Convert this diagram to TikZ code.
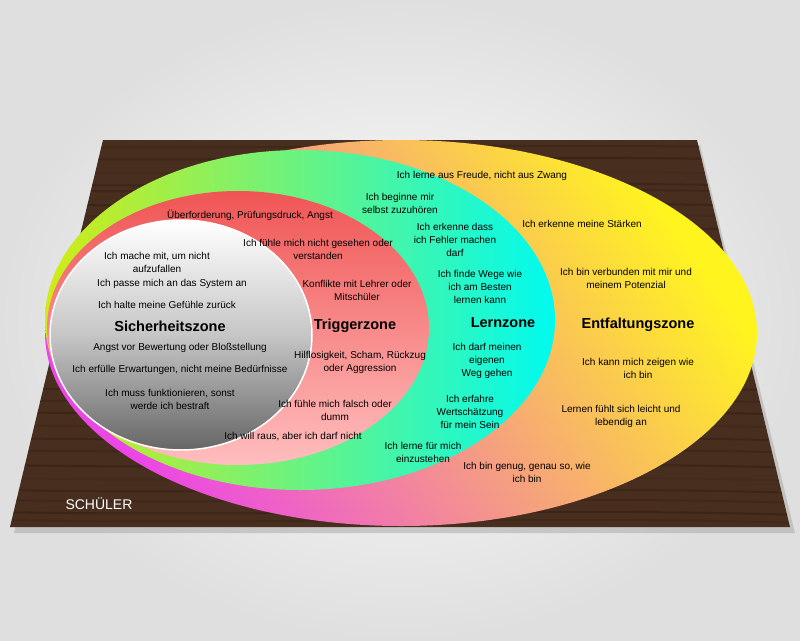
\documentclass[tikz,border=0pt]{standalone}
\usepackage{fontspec}
\setmainfont{Liberation Sans}
\begin{document}
\begin{tikzpicture}[x=1pt,y=-1pt,
  t/.style={align=center,font=\fontsize{10}{13}\selectfont,text=black,inner sep=0pt},
  h/.style={align=center,font=\fontsize{14.5}{16}\selectfont\bfseries,text=black,inner sep=0pt}]
\useasboundingbox (0,0) rectangle (800,640);
\shade[inner color=white,outer color=gray!25] (0,0) rectangle (800,640);
% board shadow and board
\fill[black!35,opacity=.5] (106,145) -- (700,145) -- (795,533) -- (14,533) -- cycle;
\coordinate (b1) at (103,140); \coordinate (b2) at (697,140);
\coordinate (b3) at (790,527); \coordinate (b4) at (10,527);
\fill[fill={rgb,255:red,72;green,46;blue,30}] (b1) -- (b2) -- (b3) -- (b4) -- cycle;
\begin{scope}
\clip (b1) -- (b2) -- (b3) -- (b4) -- cycle;
\foreach \yy/\c in {146/28,158/40,172/12,184/35,190/30,204/40,215/18,228/35,240/25,255/40,268/10,280/35,290/30,305/40,318/20,332/35,345/28,360/40,372/12,388/35,400/26,412/40,425/18,438/35,450/30,465/40,478/14,490/35,500/25,512/40,520/20}{
  \draw[line width=2pt,color={rgb,255:red,40;green,24;blue,14},opacity=.\c]
    (0,\yy) .. controls (250,\yy+5) and (550,\yy-5) .. (800,\yy+3);}
\end{scope}
% ellipses
\shade[left color={rgb,255:red,235;green,70;blue,230},middle color={rgb,255:red,255;green,150;blue,60},right color={rgb,255:red,255;green,245;blue,30},shading angle=125]
  (401,333) ellipse [x radius=356,y radius=193];
\shade[left color={rgb,255:red,210;green,235;blue,20},middle color={rgb,255:red,60;green,230;blue,90},right color={rgb,255:red,0;green,250;blue,240}]
  (300,320) ellipse [x radius=255,y radius=170];
\shade[top color={rgb,255:red,240;green,85;blue,85},bottom color={rgb,255:red,255;green,190;blue,190}]
  (238,328) ellipse [x radius=191,y radius=137];
\shade[top color=white,bottom color=gray!80!black,middle color=gray!45]
  (181,335) ellipse [x radius=131,y radius=115];
\draw[white,line width=1.5pt] (181,335) ellipse [x radius=131,y radius=115];
% Sicherheitszone
\node[t] (s1) at (157,262) {Ich mache mit, um nicht\\aufzufallen};
\node[t] (s2) at (172,284) {Ich passe mich an das System an};
\node[t] (s3) at (167,305) {Ich halte meine Gefühle zurück};
\node[h] (s0) at (170,326) {Sicherheitszone};
\node[t] (s4) at (180,348) {Angst vor Bewertung oder Bloßstellung};
\node[t] (s5) at (180,370) {Ich erfülle Erwartungen, nicht meine Bedürfnisse};
\node[t] (s6) at (170,399) {Ich muss funktionieren, sonst\\werde ich bestraft};
% Triggerzone
\node[t] (r1) at (250,215) {Überforderung, Prüfungsdruck, Angst};
\node[t] (r2) at (318,249) {Ich fühle mich nicht gesehen oder\\verstanden};
\node[t] (r3) at (357,290) {Konflikte mit Lehrer oder\\Mitschüler};
\node[h] (r0) at (355,326) {Triggerzone};
\node[t] (r4) at (360,362) {Hilflosigkeit, Scham, Rückzug\\oder Aggression};
\node[t] (r5) at (335,410) {Ich fühle mich falsch oder\\dumm};
\node[t] (r6) at (293,437) {Ich will raus, aber ich darf nicht};
% Lernzone
\node[t] (l1) at (400,203) {Ich beginne mir\\selbst zuzuhören};
\node[t] (l2) at (455,240) {Ich erkenne dass\\ich Fehler machen\\darf};
\node[t] (l3) at (480,287) {Ich finde Wege wie\\ich am Besten\\lernen kann};
\node[h] (l0) at (503,323) {Lernzone};
\node[t] (l4) at (487,361) {Ich darf meinen\\eigenen\\Weg gehen};
\node[t] (l5) at (470,412) {Ich erfahre\\Wertschätzung\\für mein Sein};
\node[t] (l6) at (423,452) {Ich lerne für mich\\einzustehen};
% Entfaltungszone
\node[t] (e1) at (482,176) {Ich lerne aus Freude, nicht aus Zwang};
\node[t] (e2) at (582,224) {Ich erkenne meine Stärken};
\node[t] (e3) at (626,278) {Ich bin verbunden mit mir und\\meinem Potenzial};
\node[h] (e0) at (638,325) {Entfaltungszone};
\node[t] (e4) at (638,368) {Ich kann mich zeigen wie\\ich bin};
\node[t] (e5) at (621,416) {Lernen fühlt sich leicht und\\lebendig an};
\node[t] (e6) at (527,472) {Ich bin genug, genau so, wie\\ich bin};
\node[font=\fontsize{14}{16}\selectfont,text=white,inner sep=0pt] (sch) at (99,504) {SCHÜLER};
\end{tikzpicture}
\end{document}
